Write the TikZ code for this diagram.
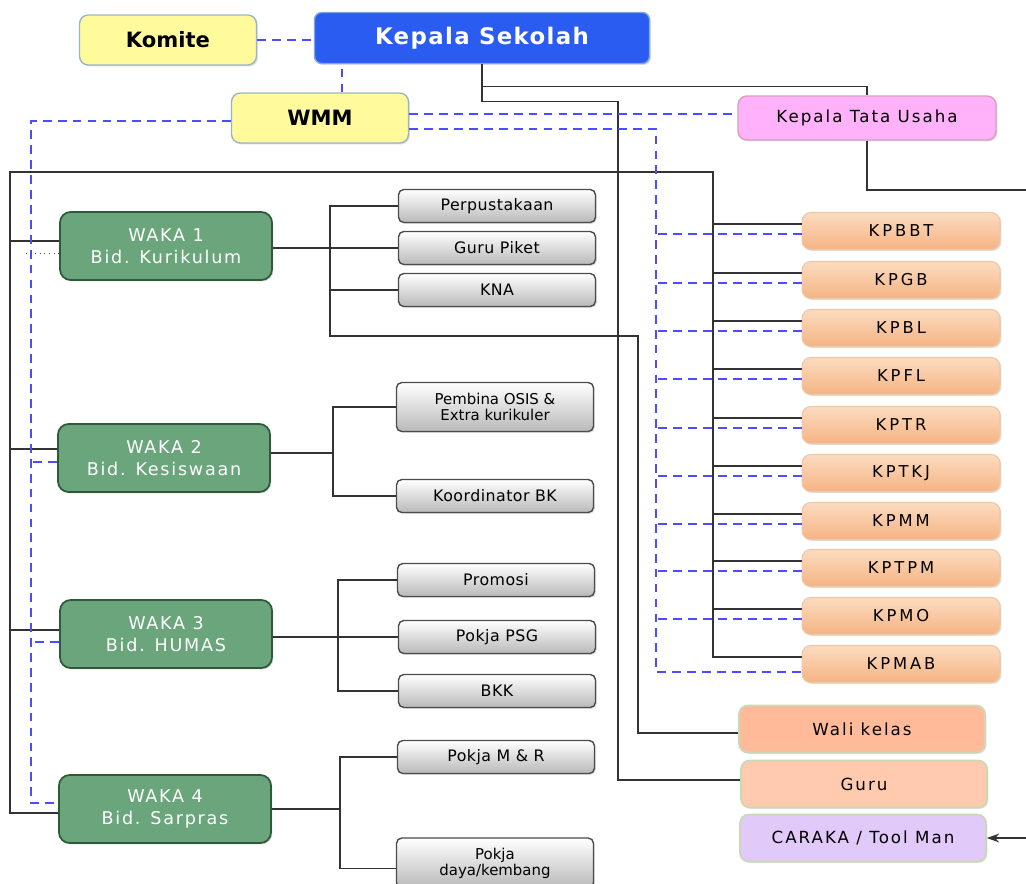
\documentclass[tikz,border=0pt]{standalone}
\usepackage{fontspec}
\setmainfont{DejaVu Sans}
\newfontfamily\headfont[LetterSpace=6]{DejaVu Sans}
\newfontfamily\orgfont[LetterSpace=12]{DejaVu Sans}
\newfontfamily\kpfont[LetterSpace=18]{DejaVu Sans}
\newfontfamily\wakafont[LetterSpace=10]{DejaVu Sans}
\newfontfamily\subfont[LetterSpace=3]{DejaVu Sans}
\usepackage{xcolor}
\usepackage{tikz}
\usetikzlibrary{arrows.meta,shadows}

\definecolor{ksblue}{HTML}{2B5CF2}
\definecolor{ksborder}{HTML}{7FA8D8}
\definecolor{komfill}{HTML}{FFFB9C}
\definecolor{komborder}{HTML}{9CB4C8}
\definecolor{ktufill}{HTML}{FFB2FA}
\definecolor{ktuborder}{HTML}{D8A0B8}
\definecolor{wakafill}{HTML}{6BA57C}
\definecolor{wakaborder}{HTML}{2E5A3A}
\definecolor{kptop}{HTML}{FCDCC0}
\definecolor{kpbot}{HTML}{F5B383}
\definecolor{kpborder}{HTML}{F0C6A6}
\definecolor{walifill}{HTML}{FFBB99}
\definecolor{gurufill}{HTML}{FFCAAE}
\definecolor{carakafill}{HTML}{E1C9F9}
\definecolor{lowborder}{HTML}{C9D9B4}
\definecolor{lineblue}{HTML}{4D4DFF}

\begin{document}
\begin{tikzpicture}[
  x=0.02cm, y=-0.02cm,
  >=Stealth,
  orgbox/.style={rectangle, align=center, inner sep=1pt,
    drop shadow={shadow xshift=0.8pt, shadow yshift=-0.8pt, opacity=0.25}},
  komitebox/.style={orgbox, rounded corners=5pt, draw=komborder, fill=komfill, line width=0.8pt,
    minimum width=3.54cm, minimum height=1cm, font=\bfseries\fontsize{12}{14}\selectfont},
  headbox/.style={orgbox, rounded corners=4pt, draw=ksborder, fill=ksblue, line width=0.8pt, text=white,
    minimum width=6.7cm, minimum height=1.02cm, font=\headfont\bfseries\fontsize{13}{15}\selectfont},
  ktubox/.style={orgbox, rounded corners=5pt, draw=ktuborder, fill=ktufill, line width=0.8pt,
    minimum width=5.16cm, minimum height=0.88cm, font=\orgfont\fontsize{9.5}{11}\selectfont},
  wakabox/.style={orgbox, rounded corners=6pt, draw=wakaborder, fill=wakafill, line width=1pt, text=white,
    minimum width=4.24cm, minimum height=1.36cm, font=\wakafont\fontsize{10}{12.5}\selectfont},
  subbox/.style={orgbox, rounded corners=3pt, draw=black!70, top color=white, bottom color=gray!55, line width=0.8pt,
    minimum width=3.94cm, minimum height=0.66cm, font=\subfont\fontsize{9}{11}\selectfont},
  kpbox/.style={orgbox, rounded corners=5pt, draw=kpborder, top color=kptop, bottom color=kpbot, line width=0.6pt,
    minimum width=3.96cm, minimum height=0.74cm, font=\kpfont\fontsize{9.3}{11}\selectfont},
  staffbox/.style={orgbox, rounded corners=5pt, draw=lowborder, line width=1pt,
    minimum width=4.92cm, minimum height=0.94cm, font=\orgfont\fontsize{9.5}{11}\selectfont},
  orgline/.style={draw=black!80, line width=0.7pt},
  wmmline/.style={draw=lineblue, line width=1.1pt, dash pattern=on 5pt off 3.5pt},
  dotline/.style={draw=black!70, line width=0.6pt, dotted},
]
\fill[white] (0,0) rectangle (1026,883);
\useasboundingbox (0,0) rectangle (1026,883);

% Top
\node[komitebox] (komite) at (168,40) {Komite};
\node[headbox] (ks) at (482,38) {Kepala Sekolah};
\node[komitebox] (wmm) at (320,118) {WMM};
\node[ktubox] (ktu) at (867,118) {Kepala Tata Usaha};

% WAKA
\node[wakabox] (waka1) at (166,246) {WAKA 1\\Bid. Kurikulum};
\node[wakabox] (waka2) at (164,458) {WAKA 2\\Bid. Kesiswaan};
\node[wakabox] (waka3) at (166,634) {WAKA 3\\Bid. HUMAS};
\node[wakabox] (waka4) at (165,809) {WAKA 4\\Bid. Sarpras};

% Units under WAKA
\node[subbox] (perpus) at (497,206) {Perpustakaan};
\node[subbox] (piket) at (497,248) {Guru Piket};
\node[subbox] (kna) at (497,290) {KNA};
\node[subbox, minimum height=0.98cm, font=\fontsize{8.5}{9}\selectfont] (osis) at (495,407) {Pembina OSIS \&\\Extra kurikuler};
\node[subbox] (koorbk) at (495,496) {Koordinator BK};
\node[subbox] (promosi) at (496,580) {Promosi};
\node[subbox] (psg) at (497,637) {Pokja PSG};
\node[subbox] (bkk) at (497,691) {BKK};
\node[subbox] (pokjamr) at (496,757) {Pokja M \& R};
\node[subbox, minimum height=1cm, font=\fontsize{8.5}{8}\selectfont] (pokjadk) at (495,863) {Pokja\\daya/kembang};

% Kepala program
\foreach \kp/\yy in {KPBBT/231, KPGB/280, KPBL/328, KPFL/376, KPTR/425, KPTKJ/473, KPMM/521, KPTPM/568, KPMO/616, KPMAB/664} {
  \node[kpbox] (\kp) at (901,\yy) {\kp};
}

% Staff
\node[staffbox, fill=walifill] (wali) at (862,729) {Wali kelas};
\node[staffbox, fill=gurufill] (guru) at (864,784) {Guru};
\node[staffbox, fill=carakafill] (caraka) at (863,838) {CARAKA / Tool Man};

% Bus coordinates
\coordinate (leftbus) at (10,172);
\coordinate (kpbus) at (713,172);
\coordinate (wmmbus) at (31,0);
\coordinate (kpdash) at (656,0);
\coordinate (gurubus) at (618,0);
\coordinate (walibus) at (638,0);
\coordinate (b1) at (330,336);
\coordinate (b2) at (333,0);
\coordinate (b3) at (338,0);
\coordinate (b4) at (340,0);
\coordinate (ktuout) at (1026,190);
\coordinate (carakain) at (1026,838);

% Kepala Sekolah lines
\draw[orgline] (ks.south) -- ++(0,22) -| (ktu.north);
\draw[orgline] (ks.south) -- ++(0,37) -| ([yshift=2.3pt]guru.west -| gurubus) -- ([yshift=2.3pt]guru.west);
\draw[orgline] (ktu.south) |- (ktuout);
\draw[orgline, line width=0.9pt, -{Stealth[length=7pt,width=5pt]}] (carakain) -- (caraka.east);

% Main bus
\draw[orgline] ([yshift=-2.3pt]waka4.west) -- ([yshift=-2.3pt]waka4.west -| leftbus) -- (leftbus) -- (kpbus)
  -- ([yshift=4pt]KPMAB.west -| kpbus) -- ([yshift=4pt]KPMAB.west);
\draw[orgline] ([yshift=2.8pt]waka1.west) -- ([yshift=2.8pt]waka1.west -| leftbus);
\draw[orgline] ([yshift=5.1pt]waka2.west) -- ([yshift=5.1pt]waka2.west -| leftbus);
\draw[orgline] ([yshift=2.3pt]waka3.west) -- ([yshift=2.3pt]waka3.west -| leftbus);
\foreach \kp in {KPBBT,KPGB,KPBL,KPFL,KPTR,KPTKJ,KPMM,KPTPM,KPMO} {
  \draw[orgline] ([yshift=4pt]\kp.west) -- ([yshift=4pt]\kp.west -| kpbus);
}

% WMM dashed lines
\draw[wmmline] (komite.east) -- (komite.east -| ks.west);
\draw[wmmline] ([xshift=12.5pt]wmm.north) -- ([xshift=12.5pt]wmm.north |- ks.south);
\draw[wmmline] ([yshift=2.3pt]wmm.east) -- ([yshift=2.3pt]wmm.east -| ktu.west);
\draw[wmmline] ([yshift=-6pt]wmm.east) -| ([yshift=-4.5pt]KPMAB.west -| kpdash) -- ([yshift=-4.5pt]KPMAB.west);
\foreach \kp in {KPBBT,KPGB,KPBL,KPFL,KPTR,KPTKJ,KPMM,KPTPM,KPMO} {
  \draw[wmmline] ([yshift=-1.7pt]\kp.west) -- ([yshift=-1.7pt]\kp.west -| kpdash);
}
\draw[wmmline] ([yshift=-1.7pt]wmm.west) -| ([yshift=3.4pt]waka4.west -| wmmbus) -- ([yshift=3.4pt]waka4.west);
\draw[dotline] ([yshift=-4.5pt]waka1.west) -- ([xshift=-3pt,yshift=-4.5pt]waka1.west -| wmmbus);
\draw[wmmline] ([yshift=-2.3pt]waka2.west) -- ([yshift=-2.3pt]waka2.west -| wmmbus);
\draw[wmmline] ([yshift=-4.5pt]waka3.west) -- ([yshift=-4.5pt]waka3.west -| wmmbus);

% WAKA 1
\draw[orgline] (waka1.east |- piket.west) -- (piket.west);
\draw[orgline] (perpus.west) -| (b1) -| ([yshift=-2.3pt]wali.west -| walibus) -- ([yshift=-2.3pt]wali.west);
\draw[orgline] (kna.west) -- (kna.west -| b1);
% WAKA 2
\draw[orgline] ([yshift=2.8pt]waka2.east) -- ([yshift=2.8pt]waka2.east -| b2);
\draw[orgline] (osis.west) -| (b2 |- koorbk.west) -- (koorbk.west);
% WAKA 3
\draw[orgline] (waka3.east |- psg.west) -- (psg.west);
\draw[orgline] (promosi.west) -| (b3 |- bkk.west) -- (bkk.west);
% WAKA 4
\draw[orgline] (waka4.east) -- (waka4.east -| b4);
\draw[orgline] (pokjamr.west) -| ([yshift=-3pt]pokjadk.west -| b4) -- ([yshift=-3pt]pokjadk.west);
\end{tikzpicture}
\end{document}
